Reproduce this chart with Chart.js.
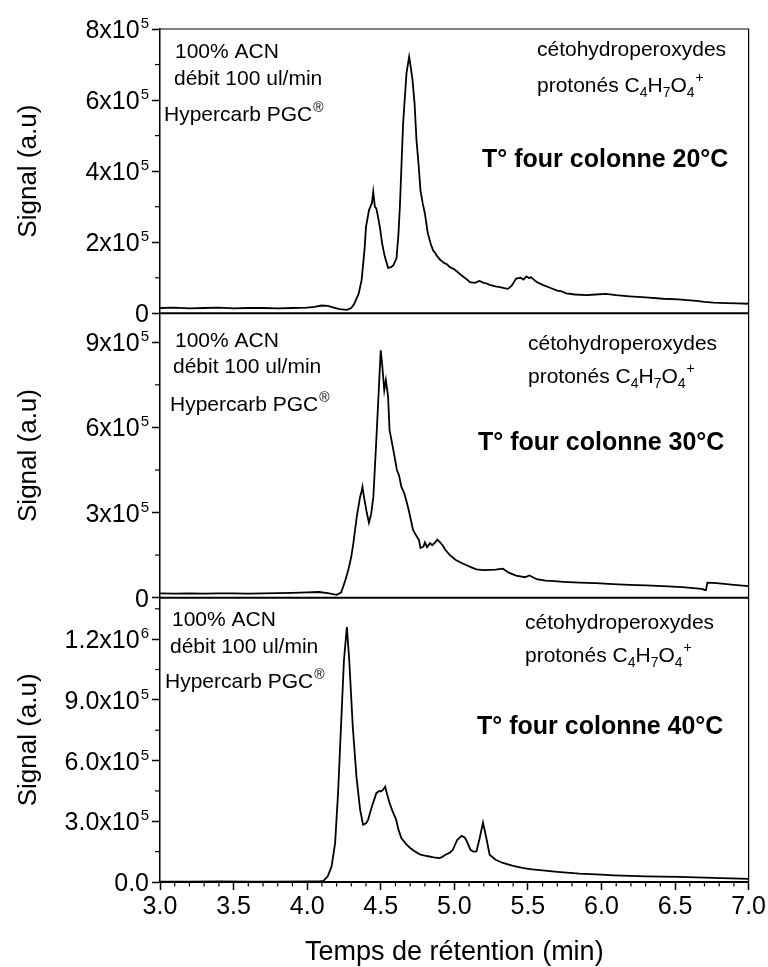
<!DOCTYPE html>
<html><head><meta charset="utf-8">
<script src="https://cdn.jsdelivr.net/npm/chart.js@4.4.0/dist/chart.umd.min.js"></script>
<style>html,body{margin:0;padding:0;background:#fff;} #wrap{width:768px;height:967px;position:relative;} canvas{display:block;}</style>
</head><body><div id="wrap"><canvas id="c" width="768" height="967"></canvas></div>
<script>
// ---- Data (signal in units of 10^5 a.u., time in min) ----
const time20 = [3.00,3.10,3.20,3.30,3.40,3.50,3.60,3.70,3.80,3.90,4.00,4.05,4.10,4.14,4.18,4.22,4.27,4.30,4.32,4.35,4.37,4.39,4.40,4.42,4.44,4.449,4.46,4.47,4.48,4.494,4.51,4.528,4.55,4.57,4.585,4.607,4.62,4.63,4.652,4.675,4.693,4.705,4.716,4.73,4.743,4.757,4.77,4.785,4.80,4.82,4.84,4.856,4.87,4.88,4.89,4.90,4.915,4.93,4.95,4.97,5.00,5.02,5.04,5.07,5.09,5.105,5.14,5.17,5.20,5.22,5.24,5.28,5.31,5.34,5.365,5.39,5.42,5.45,5.47,5.49,5.51,5.52,5.54,5.56,5.60,5.65,5.70,5.73,5.76,5.82,5.90,5.96,6.03,6.10,6.19,6.30,6.42,6.52,6.645,6.70,6.76,6.85,6.92,7.00];
const signal20 = [0.15,0.16,0.14,0.15,0.16,0.14,0.15,0.15,0.14,0.15,0.16,0.18,0.22,0.21,0.16,0.12,0.10,0.15,0.27,0.55,0.93,1.80,2.43,2.90,3.10,3.42,3.00,2.95,2.75,2.43,1.95,1.59,1.28,1.30,1.35,1.54,2.20,2.99,5.34,6.75,7.22,6.90,6.56,5.90,4.87,4.20,3.46,3.10,2.81,2.25,1.95,1.77,1.70,1.62,1.58,1.52,1.47,1.42,1.38,1.30,1.24,1.17,1.10,1.00,0.94,0.88,0.86,0.91,0.86,0.84,0.80,0.76,0.74,0.71,0.69,0.78,0.98,1.00,0.95,1.04,0.99,1.02,0.95,0.88,0.80,0.72,0.64,0.62,0.56,0.53,0.51,0.53,0.55,0.51,0.48,0.45,0.41,0.39,0.35,0.32,0.30,0.29,0.28,0.27];

const time30 = [3.00,3.10,3.20,3.30,3.40,3.50,3.60,3.70,3.80,3.90,4.00,4.08,4.14,4.20,4.23,4.245,4.26,4.28,4.30,4.314,4.337,4.36,4.37,4.376,4.383,4.39,4.405,4.42,4.435,4.45,4.47,4.49,4.50,4.51,4.524,4.535,4.55,4.56,4.575,4.59,4.61,4.625,4.64,4.66,4.675,4.69,4.72,4.74,4.76,4.77,4.79,4.80,4.815,4.835,4.85,4.87,4.885,4.90,4.92,4.94,4.97,5.01,5.05,5.08,5.12,5.15,5.20,5.24,5.28,5.33,5.37,5.42,5.48,5.51,5.56,5.62,5.68,5.74,5.85,5.96,6.08,6.19,6.30,6.42,6.55,6.645,6.69,6.70,6.71,6.72,6.76,6.80,6.90,7.00];
const signal30 = [0.15,0.14,0.15,0.14,0.15,0.15,0.14,0.15,0.16,0.17,0.19,0.20,0.16,0.10,0.18,0.39,0.62,0.98,1.45,1.92,2.85,3.56,3.75,3.91,3.65,3.44,3.00,2.64,2.95,3.56,5.55,7.67,8.72,8.20,7.31,7.67,7.08,5.90,5.50,5.08,4.50,4.30,3.91,3.68,3.40,3.09,2.38,2.20,2.03,1.75,1.80,1.95,1.78,1.92,1.85,1.95,2.05,1.97,1.85,1.68,1.50,1.33,1.22,1.15,1.06,1.00,0.97,0.98,0.99,1.02,0.88,0.78,0.72,0.78,0.65,0.60,0.58,0.56,0.53,0.51,0.48,0.45,0.43,0.41,0.37,0.33,0.30,0.27,0.27,0.53,0.52,0.50,0.45,0.41];

const time40 = [3.00,3.20,3.40,3.60,3.80,4.00,4.08,4.11,4.14,4.166,4.19,4.21,4.23,4.25,4.27,4.286,4.31,4.335,4.36,4.38,4.40,4.414,4.44,4.47,4.49,4.50,4.515,4.53,4.545,4.56,4.58,4.605,4.62,4.64,4.67,4.70,4.735,4.77,4.80,4.83,4.86,4.90,4.92,4.94,4.97,4.99,5.02,5.05,5.07,5.08,5.11,5.13,5.15,5.17,5.195,5.22,5.24,5.28,5.33,5.40,5.47,5.53,5.60,5.70,5.85,6.00,6.08,6.20,6.30,6.53,6.76,7.00];
const signal40 = [0.02,0.02,0.03,0.02,0.02,0.03,0.03,0.05,0.28,0.77,1.92,4.39,7.67,10.96,12.60,10.96,7.67,5.21,3.57,2.83,2.90,3.07,3.73,4.39,4.50,4.47,4.55,4.71,4.30,3.90,3.50,3.07,2.60,2.17,1.90,1.68,1.50,1.35,1.30,1.26,1.22,1.18,1.25,1.35,1.45,1.59,2.09,2.28,2.20,2.09,1.59,1.50,1.51,2.09,2.94,2.09,1.35,1.10,0.94,0.80,0.69,0.62,0.57,0.50,0.41,0.36,0.33,0.30,0.28,0.25,0.20,0.15];

// ---- Tick values and labels ----
const xTicks = [3.0,3.5,4.0,4.5,5.0,5.5,6.0,6.5,7.0];
const xLabels = ['3.0','3.5','4.0','4.5','5.0','5.5','6.0','6.5','7.0'];
const xMinor = [3.1,3.2,3.3,3.4,3.6,3.7,3.8,3.9,4.1,4.2,4.3,4.4,4.6,4.7,4.8,4.9,5.1,5.2,5.3,5.4,5.6,5.7,5.8,5.9,6.1,6.2,6.3,6.4,6.6,6.7,6.8,6.9];
const yTicks20 = [0,2,4,6,8];
const yLabels20 = ['0','2x10','4x10','6x10','8x10'];
const yExp20 = ['','5','5','5','5'];
const yMinor20 = [1,3,5,7];
const yTicks30 = [0,3,6,9];
const yLabels30 = ['0','3x10','6x10','9x10'];
const yExp30 = ['','5','5','5'];
const yMinor30 = [1.5,4.5,7.5];
const yTicks40 = [0,3,6,9,12];
const yLabels40 = ['0.0','3.0x10','6.0x10','9.0x10','1.2x10'];
const yExp40 = ['','5','5','5','6'];
const yMinor40 = [1.5,4.5,7.5,10.5,13.5];
const panelTemps = ['20°C','30°C','40°C'];

const FONT = "'Liberation Sans', Arial, Helvetica, sans-serif";

function yAxis(ticks, max) {
  return {
    type: 'linear', position: 'left', stack: 'panels', stackWeight: 1,
    min: 0, max: max,
    afterBuildTicks: s => { s.ticks = ticks.map(v => ({value: v})); },
    afterFit: s => { s.width = 160; },
    ticks: {display: false},
    grid: {drawOnChartArea: false, tickLength: 8, tickWidth: 1.5, tickColor: '#000'},
    border: {display: true, color: '#000', width: 1.5},
    title: {display: true, text: 'Signal (a.u)', color: '#000',
            font: {family: FONT, size: 26}, padding: {top: 13, bottom: 0}}
  };
}

function series(t, s, axis) {
  return {
    data: t.map((x, i) => ({x: x, y: s[i]})),
    yAxisID: axis, borderColor: '#000', borderWidth: 1.8,
    pointRadius: 0, tension: 0, fill: false
  };
}

// annotation layout: offsets (px) from each panel's top edge
const annot = [
  {l: [[175, 29], [174, 56], [164, 92]], r: [537, 27, 63], b: [482, 138]},
  {l: [[175, 34], [173, 60], [170, 98]], r: [528, 37, 70], b: [478, 137]},
  {l: [[172, 28], [170, 55], [165, 90]], r: [525, 31, 64], b: [477, 136]}
];

const decor = {
  id: 'decor',
  afterDraw(chart) {
    const ctx = chart.ctx, ca = chart.chartArea, sc = chart.scales;
    const f = (w, s) => `${w} ${s}px ${FONT}`;
    ctx.save();
    ctx.strokeStyle = '#000';
    // frame top/right
    ctx.lineWidth = 1.2;
    ctx.beginPath();
    ctx.moveTo(ca.left, ca.top); ctx.lineTo(ca.right, ca.top); ctx.lineTo(ca.right, ca.bottom);
    ctx.stroke();
    // panel separators (zero lines)
    ctx.lineWidth = 2;
    ['y20', 'y30'].forEach(id => {
      const y = sc[id].getPixelForValue(0);
      ctx.beginPath(); ctx.moveTo(ca.left, y); ctx.lineTo(ca.right, y); ctx.stroke();
    });
    // minor ticks
    ctx.lineWidth = 1.2;
    [['y20', yMinor20], ['y30', yMinor30], ['y40', yMinor40]].forEach(([id, arr]) => {
      const s = sc[id];
      arr.forEach(v => {
        if (v > s.max) return;
        const y = s.getPixelForValue(v);
        ctx.beginPath(); ctx.moveTo(s.right - 5, y); ctx.lineTo(s.right, y); ctx.stroke();
      });
    });
    xMinor.forEach(v => {
      const x = sc.x.getPixelForValue(v);
      ctx.beginPath(); ctx.moveTo(x, ca.bottom); ctx.lineTo(x, ca.bottom + 4.5); ctx.stroke();
    });
    ctx.fillStyle = '#000';
    ctx.textBaseline = 'alphabetic';
    // y tick labels with superscript exponents
    [['y20', yTicks20, yLabels20, yExp20], ['y30', yTicks30, yLabels30, yExp30], ['y40', yTicks40, yLabels40, yExp40]].forEach(([id, tv, lb, ex]) => {
      const s = sc[id];
      tv.forEach((v, i) => {
        const y = s.getPixelForValue(v);
        const right = s.right - 11;
        ctx.font = f('normal', 15);
        const ew = ex[i] ? ctx.measureText(ex[i]).width + 1 : 0;
        if (ex[i]) { ctx.textAlign = 'right'; ctx.fillText(ex[i], right, y - 1); }
        ctx.font = f('normal', 25);
        ctx.textAlign = 'right';
        ctx.fillText(lb[i], right - ew, y + 9);
      });
    });
    // annotations
    ctx.textAlign = 'left';
    ['y20', 'y30', 'y40'].forEach((id, k) => {
      const top = sc[id].top, a = annot[k];
      ctx.font = f('normal', 21);
      ctx.fillText('100% ACN', a.l[0][0], top + a.l[0][1]);
      ctx.fillText('débit 100 ul/min', a.l[1][0], top + a.l[1][1]);
      let x = a.l[2][0], y = top + a.l[2][1];
      ctx.fillText('Hypercarb PGC', x, y);
      x += ctx.measureText('Hypercarb PGC').width;
      ctx.font = f('normal', 14);
      ctx.fillText('®', x + 1, y - 9);
      // right block
      ctx.font = f('normal', 21);
      ctx.fillText('cétohydroperoxydes', a.r[0], top + a.r[1]);
      x = a.r[0]; y = top + a.r[2];
      const parts = [['protonés C', 0, 21], ['4', 5, 14], ['H', 0, 21], ['7', 5, 14], ['O', 0, 21], ['4', 5, 14]];
      parts.forEach(([t, dy, sz]) => {
        ctx.font = f('normal', sz);
        ctx.fillText(t, x, y + dy);
        x += ctx.measureText(t).width;
      });
      ctx.font = f('normal', 14);
      ctx.fillText('+', x + 1, y - 10);
      // bold label
      ctx.font = f('bold', 25);
      ctx.fillText('T° four colonne ' + panelTemps[k], a.b[0], top + a.b[1]);
    });
    ctx.restore();
  }
};

new Chart(document.getElementById('c'), {
  type: 'line',
  data: {datasets: [series(time20, signal20, 'y20'), series(time30, signal30, 'y30'), series(time40, signal40, 'y40')]},
  options: {
    responsive: false, animation: false,
    layout: {padding: {top: 29, right: 19, left: 0, bottom: 0}},
    plugins: {legend: {display: false}, tooltip: {enabled: false}},
    scales: {
      x: {
        type: 'linear', position: 'bottom', min: 3, max: 7,
        afterBuildTicks: s => { s.ticks = xTicks.map(v => ({value: v})); },
        afterFit: s => { s.height = 85; },
        ticks: {autoSkip: false, maxRotation: 0, color: '#000', padding: 2,
                font: {family: FONT, size: 25},
                callback: (v) => xLabels[xTicks.indexOf(v)]},
        grid: {drawOnChartArea: false, tickLength: 8, tickWidth: 1.5, tickColor: '#000'},
        border: {display: true, color: '#000', width: 2},
        title: {display: true, text: 'Temps de rétention (min)', color: '#000',
                font: {family: FONT, size: 27, lineHeight: 1}, padding: {top: 0, bottom: 1}}
      },
      y40: yAxis(yTicks40, 14.05),
      y30: yAxis(yTicks30, 10.02),
      y20: yAxis(yTicks20, 8)
    }
  },
  plugins: [decor]
});
</script>
</body></html>
